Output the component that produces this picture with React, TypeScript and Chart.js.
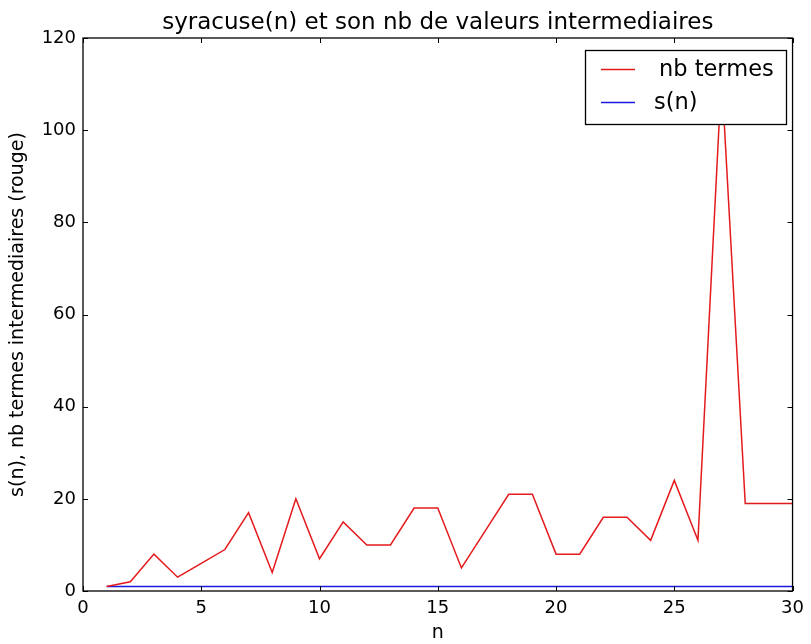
import React, { useEffect, useRef } from "react";
import { Chart, registerables } from "chart.js";

Chart.register(...registerables);

const nValues = [1, 2, 3, 4, 5, 6, 7, 8, 9, 10, 11, 12, 13, 14, 15, 16, 17, 18, 19, 20, 21, 22, 23, 24, 25, 26, 27, 28, 29, 30];
const nbTermes = [1, 2, 8, 3, 6, 9, 17, 4, 20, 7, 15, 10, 10, 18, 18, 5, 13, 21, 21, 8, 8, 16, 16, 11, 24, 11, 112, 19, 19, 19];
const sValues = [1, 1, 1, 1, 1, 1, 1, 1, 1, 1, 1, 1, 1, 1, 1, 1, 1, 1, 1, 1, 1, 1, 1, 1, 1, 1, 1, 1, 1, 1];
const xTicks = [0, 5, 10, 15, 20, 25, 30];
const yTicks = [0, 20, 40, 60, 80, 100, 120];
const titleText = "syracuse(n) et son nb de valeurs intermediaires";
const xLabel = "n";
const yLabel = "s(n), nb termes intermediaires (rouge)";
const seriesLabels = ["nb termes", "s(n)"];

const FONT = "'DejaVu Sans', sans-serif";

const framePlugin = {
  id: "frame",
  afterDatasetsDraw(chart: any) {
    const { ctx, chartArea: a, scales } = chart;
    const xs = scales.x;
    const ys = scales.y;
    ctx.save();
    ctx.strokeStyle = "#000";
    ctx.lineWidth = 1;
    const tl = 5;
    ctx.beginPath();
    for (const v of xTicks) {
      const px = Math.round(xs.getPixelForValue(v)) + 0.5;
      ctx.moveTo(px, a.bottom);
      ctx.lineTo(px, a.bottom - tl);
      ctx.moveTo(px, a.top);
      ctx.lineTo(px, a.top + tl);
    }
    for (const v of yTicks) {
      const py = Math.round(ys.getPixelForValue(v)) + 0.5;
      ctx.moveTo(a.left, py);
      ctx.lineTo(a.left + tl, py);
      ctx.moveTo(a.right, py);
      ctx.lineTo(a.right - tl, py);
    }
    ctx.stroke();
    ctx.lineWidth = 1.3;
    ctx.strokeRect(a.left, a.top, a.right - a.left, a.bottom - a.top);

    // legend
    const lx = 585, ly = 50, lw = 201, lh = 74;
    ctx.fillStyle = "#fff";
    ctx.fillRect(lx, ly, lw, lh);
    ctx.strokeStyle = "#000";
    ctx.lineWidth = 1.3;
    ctx.strokeRect(lx + 0.5, ly + 0.5, lw, lh);
    const rows = [69, 102];
    ctx.font = "22.5px " + FONT;
    ctx.textBaseline = "middle";
    ctx.textAlign = "left";
    chart.data.datasets.forEach((d: any, i: number) => {
      ctx.strokeStyle = d.borderColor;
      ctx.lineWidth = 1.3;
      ctx.beginPath();
      ctx.moveTo(601, rows[i] + 0.5);
      ctx.lineTo(635, rows[i] + 0.5);
      ctx.stroke();
      ctx.fillStyle = "#000";
      ctx.fillText(d.label, i === 0 ? 659 : 654, rows[i] + 1);
    });

    // title
    ctx.font = "23px " + FONT;
    ctx.textAlign = "center";
    ctx.textBaseline = "alphabetic";
    ctx.fillStyle = "#000";
    ctx.fillText(titleText, (a.left + a.right) / 2, 29);
    ctx.restore();
  },
};

export default function App() {
  const ref = useRef<HTMLCanvasElement>(null);
  useEffect(() => {
    const chart = new Chart(ref.current!, {
      type: "line",
      data: {
        labels: nValues,
        datasets: [
          {
            label: seriesLabels[0],
            data: nValues.map((n, i) => ({ x: n, y: nbTermes[i] })),
            borderColor: "#e41a1c",
            borderWidth: 1.5,
            pointRadius: 0,
            tension: 0,
            fill: false,
          },
          {
            label: seriesLabels[1],
            data: nValues.map((n, i) => ({ x: n, y: sValues[i] })),
            borderColor: "#1a1ae0",
            borderWidth: 1.5,
            pointRadius: 0,
            tension: 0,
            fill: false,
          },
        ],
      },
      options: {
        responsive: false,
        animation: false,
        events: [],
        layout: { padding: { top: 38, right: 15, left: 0, bottom: 0 } },
        plugins: {
          legend: { display: false },
          title: { display: false },
          tooltip: { enabled: false },
        },
        scales: {
          x: {
            type: "linear",
            min: 0,
            max: 30,
            afterBuildTicks: (s: any) => {
              s.ticks = xTicks.map((v) => ({ value: v }));
            },
            afterFit: (s: any) => {
              s.height = 53;
            },
            grid: { display: false, drawTicks: false },
            border: { display: false },
            ticks: {
              color: "#000",
              font: { family: FONT, size: 18 },
              padding: 7,
              maxRotation: 0,
            },
            title: {
              display: true,
              text: xLabel,
              color: "#000",
              font: { family: FONT, size: 19 },
              padding: { top: 4, bottom: 0 },
            },
          },
          y: {
            type: "linear",
            min: 0,
            max: 120,
            afterBuildTicks: (s: any) => {
              s.ticks = yTicks.map((v) => ({ value: v }));
            },
            afterFit: (s: any) => {
              s.width = 83;
            },
            grid: { display: false, drawTicks: false },
            border: { display: false },
            ticks: {
              color: "#000",
              font: { family: FONT, size: 18 },
              padding: 7,
            },
            title: {
              display: true,
              text: yLabel,
              color: "#000",
              font: { family: FONT, size: 19 },
              padding: { top: 7, bottom: 0 },
            },
          },
        },
      },
      plugins: [framePlugin],
    });
    return () => chart.destroy();
  }, []);
  return (
    <div style={{ position: "fixed", left: 0, top: 0, width: 811, height: 644, background: "#fff" }}>
      <canvas ref={ref} width={811} height={644} />
    </div>
  );
}
